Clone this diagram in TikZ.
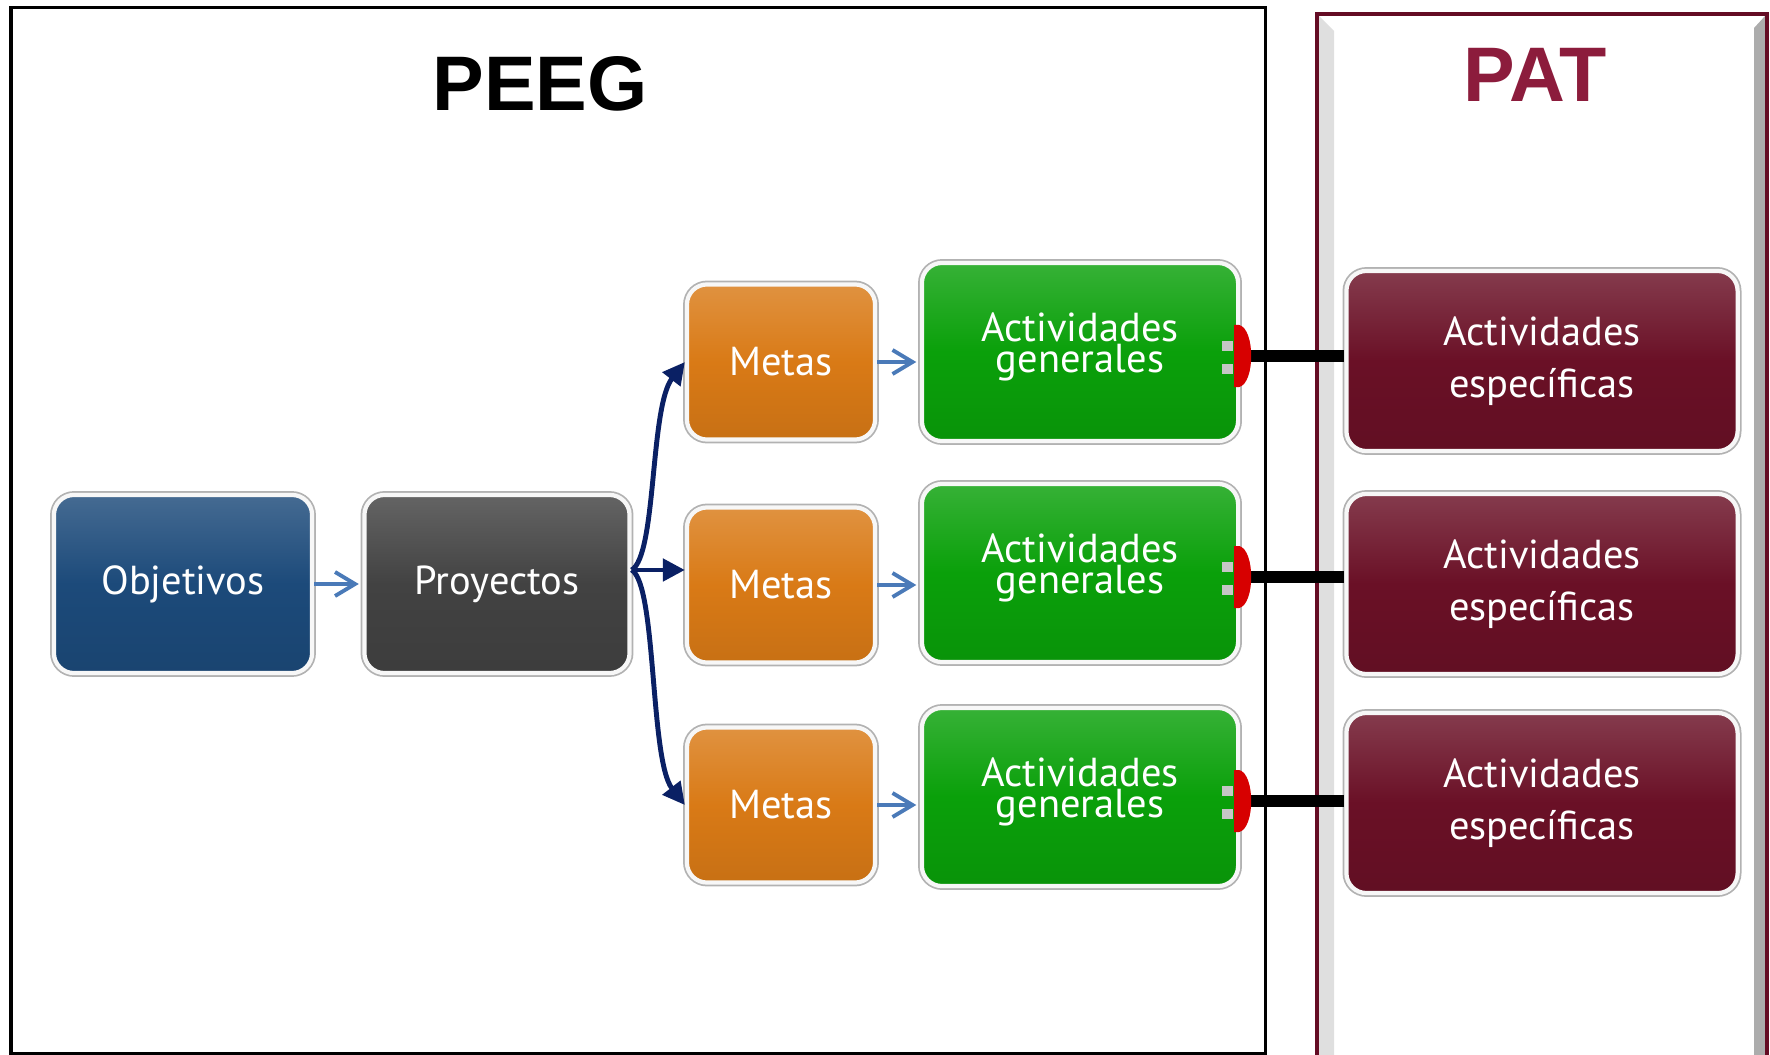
\documentclass[tikz,border=0pt]{standalone}
\usepackage{fontspec}
\setmainfont{PT Sans}
\newfontfamily\titlefont{Liberation Sans}
\usetikzlibrary{arrows.meta}

\definecolor{objblue}{RGB}{28,74,122}
\definecolor{proygray}{RGB}{66,66,66}
\definecolor{metaorange}{RGB}{217,122,22}
\definecolor{gengreen}{RGB}{10,160,10}
\definecolor{espred}{RGB}{106,16,38}
\definecolor{arrowblue}{RGB}{74,122,184}
\definecolor{forknavy}{RGB}{10,32,100}
\definecolor{clampred}{RGB}{215,0,0}
\definecolor{patframe}{RGB}{100,12,36}
\definecolor{pattitle}{RGB}{140,28,60}

\newcommand{\tightlines}{\lineskiplimit=-10pt\relax}

\begin{document}
\begin{tikzpicture}[x=0.01cm,y=-0.01cm,
    glossy/.style={top color=#1!82!white, bottom color=#1!92!black, middle color=#1},
    clampmark/.pic={
      \fill[gray!45] (-18,-15) rectangle (-7,-5);
      \fill[gray!45] (-18,8) rectangle (-7,18);
      \fill[clampred] (-6,-31) -- (-1,-31) .. controls (15,-27) and (15,27) .. (-1,31) -- (-6,31) -- cycle;
    }]
    \tikzstyle{box}=[rounded corners=0.2cm, text=white, align=center, inner sep=0pt,
        font=\fontsize{11.5}{14.6}\selectfont,
        preaction={draw=gray!60, line width=2.2pt}, draw=white!94!gray, line width=1.2pt]
    \tikzstyle{objbox}=[box, glossy=objblue, minimum width=2.58cm, minimum height=1.78cm]
    \tikzstyle{proybox}=[box, glossy=proygray, minimum width=2.65cm, minimum height=1.78cm]
    \tikzstyle{metabox}=[box, glossy=metaorange, minimum width=1.88cm, minimum height=1.55cm]
    \tikzstyle{genbox}=[box, glossy=gengreen, minimum width=3.16cm, minimum height=1.78cm,
        font={\fontsize{11.5}{8.8}\selectfont\tightlines}, text depth=0.18cm]
    \tikzstyle{espbox}=[box, glossy=espred, minimum width=3.91cm, minimum height=1.80cm]
    \tikzstyle{thinarrow}=[draw=arrowblue, line width=1.1pt, shorten >=1pt,
        -{Straight Barb[length=2mm, width=2.4mm]}]
    \tikzstyle{forkarrow}=[draw=forknavy, line width=1.4pt, -{Triangle[length=2.2mm, width=2.2mm]}]
    \tikzstyle{barline}=[draw=black, line width=0.12cm]

    \useasboundingbox (0,0) rectangle (1770,1055);

    % frames
    \draw[line width=0.03cm] (11,8) rectangle (1265,1053);
    \fill[gray!25] (1319,16) -- (1334,31) -- (1334,1055) -- (1319,1055) -- cycle;
    \fill[gray!65] (1765,16) -- (1754,28) -- (1754,1055) -- (1765,1055) -- cycle;
    \draw[patframe, line width=0.045cm] (1317,1055) -- (1317,14) -- (1767,14) -- (1767,1055);

    \node[font=\titlefont\bfseries\fontsize{22}{22}\selectfont] (peeg) at (540,84) {PEEG};
    \node[font=\titlefont\bfseries\fontsize{22}{22}\selectfont, text=pattitle] (pat) at (1535,75) {PAT};

    \node[objbox] (obj) at (183,584) {Objetivos};
    \node[proybox] (proy) at (497,584) {Proyectos};

    \node[metabox] (meta1) at (781,362) {Metas};
    \node[metabox] (meta2) at (781,585) {Metas};
    \node[metabox] (meta3) at (781,805) {Metas};

    \node[genbox] (gen1) at (1080,352) {Actividades\\generales};
    \node[genbox] (gen2) at (1080,573) {Actividades\\generales};
    \node[genbox] (gen3) at (1080,797) {Actividades\\generales};

    \node[espbox] (esp1) at (1542,361) {Actividades\\específicas};
    \node[espbox] (esp2) at (1542,584) {Actividades\\específicas};
    \node[espbox] (esp3) at (1542,803) {Actividades\\específicas};

    \draw[thinarrow] (obj.east) -- (proy.west);

    \coordinate (fork) at ([yshift=0.14cm]proy.east);
    \draw[forkarrow] (fork) .. controls +(25,-15) and +(-35,45) .. (meta1.west);
    \draw[forkarrow] (fork) -- (fork -| meta2.west);
    \draw[forkarrow] (fork) .. controls +(25,15) and +(-35,-45) .. (meta3.west);

    \draw[thinarrow] (meta1.east) -- (meta1.east -| gen1.west);
    \draw[thinarrow] (meta2.east) -- (meta2.east -| gen2.west);
    \draw[thinarrow] (meta3.east) -- (meta3.east -| gen3.west);

    \coordinate (c1) at ([yshift=-0.04cm]gen1.east);
    \coordinate (c2) at ([yshift=-0.04cm]gen2.east);
    \coordinate (c3) at ([yshift=-0.04cm]gen3.east);
    \draw[barline] (c1) -- (c1 -| esp1.west);
    \draw[barline] (c2) -- (c2 -| esp2.west);
    \draw[barline] (c3) -- (c3 -| esp3.west);
    \pic at (c1) {clampmark};
    \pic at (c2) {clampmark};
    \pic at (c3) {clampmark};
\end{tikzpicture}
\end{document}
